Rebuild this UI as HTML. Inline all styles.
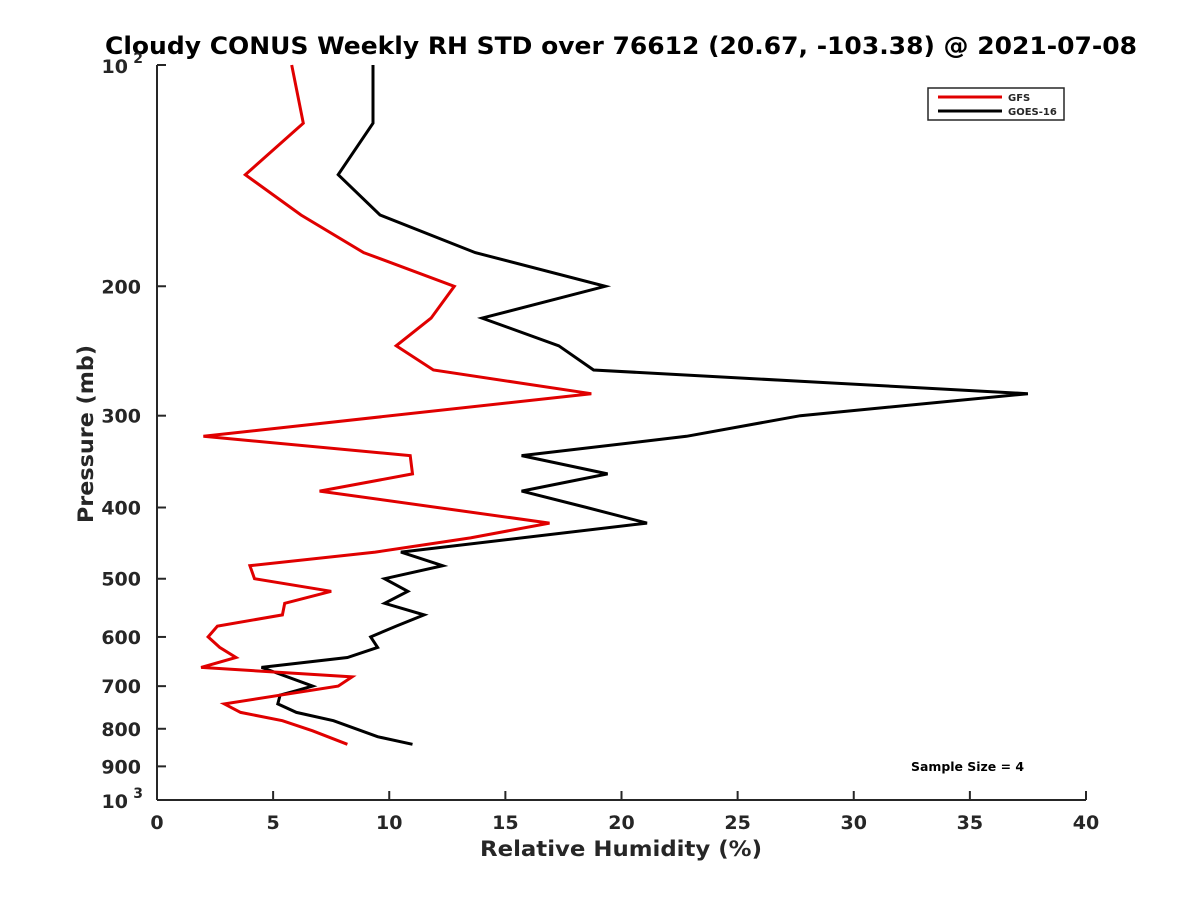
<!DOCTYPE html>
<html><head><meta charset="utf-8"><style>
body{margin:0;background:#fff}
svg text{font-family:"DejaVu Sans","Liberation Sans",sans-serif;font-weight:bold;fill:#262626}
</style></head><body>
<svg id="c" width="1200" height="900">
<rect width="1200" height="900" fill="#fff"/>
<text x="105" y="54" font-size="24" textLength="1032" lengthAdjust="spacingAndGlyphs" style="fill:#000">Cloudy CONUS Weekly RH STD over 76612 (20.67, -103.38) @ 2021-07-08</text>
<g id="axes"></g>
<g id="series"></g>
<text x="480" y="856" font-size="21" textLength="282" lengthAdjust="spacingAndGlyphs">Relative Humidity (%)</text>
<text transform="translate(93,523) rotate(-90)" font-size="21" textLength="178" lengthAdjust="spacingAndGlyphs">Pressure (mb)</text>
<text x="911" y="771" font-size="12" textLength="113" lengthAdjust="spacingAndGlyphs" style="fill:#000">Sample Size = 4</text>
<g>
<rect x="928" y="88" width="136" height="32" fill="#fff" stroke="#262626" stroke-width="1.5"/>
<line x1="938" y1="97" x2="1002" y2="97" stroke="#e00000" stroke-width="3"/>
<text x="1008" y="101" font-size="10">GFS</text>
<line x1="938" y1="111" x2="1002" y2="111" stroke="#000" stroke-width="3"/>
<text x="1008" y="115" font-size="10">GOES-16</text>
</g>
</svg>
<script>
const gfsP=[100,120,141,160,180,200,221,241,260,280,320,340,360,380,420,440,460,480,500,520,540,560,580,600,620,640,660,680,700,740,760,780,805,840];
const gfsV=[5.8,6.3,3.8,6.2,8.9,12.8,11.8,10.3,11.9,18.7,2.0,10.9,11.0,7.0,16.9,13.5,9.4,4.0,4.2,7.5,5.5,5.4,2.6,2.2,2.7,3.4,1.9,8.4,7.8,2.9,3.6,5.4,6.7,8.2];
const goesP=[100,120,141,160,180,200,221,241,260,280,300,320,340,360,380,400,420,460,480,500,520,540,560,580,600,620,640,660,700,710,720,740,760,780,820,840];
const goesV=[9.3,9.3,7.8,9.6,13.7,19.3,14.0,17.3,18.8,37.5,27.7,22.8,15.7,19.4,15.7,18.5,21.1,10.5,12.3,9.8,10.8,9.8,11.5,10.3,9.2,9.5,8.2,4.5,6.7,6.0,5.3,5.2,6.0,7.6,9.5,11.0];
const xTicks=[0,5,10,15,20,25,30,35,40];
const yTicks=[200,300,400,500,600,700,800,900];
const L=157,R=1086,T=65,B=800;
const xs=v=>L+(R-L)*v/40;
const ys=p=>T+(B-T)*Math.log10(p/100);
const NS='http://www.w3.org/2000/svg';
function mk(tag,attrs,parent){const e=document.createElementNS(NS,tag);for(const k in attrs)e.setAttribute(k,attrs[k]);parent.appendChild(e);return e;}
const ax=document.getElementById('axes');
let a=mk('line',{x1:L,y1:T,x2:L,y2:B,stroke:'#262626','stroke-width':2},ax);


a=mk('line',{x1:L,y1:B,x2:R,y2:B,stroke:'#262626','stroke-width':2},ax);


xTicks.forEach(v=>{const x=xs(v);
mk('line',{x1:x,y1:B,x2:x,y2:B-9,stroke:'#262626','stroke-width':2},ax);
const t=mk('text',{x:x,y:B+29,'font-size':19,'text-anchor':'middle'},ax);t.textContent=v;

});
yTicks.forEach(p=>{const y=ys(p);
mk('line',{x1:L,y1:y,x2:L+9,y2:y,stroke:'#262626','stroke-width':2},ax);
const t=mk('text',{x:L-16,y:y+7,'font-size':19,'text-anchor':'end'},ax);t.textContent=p;

});
[[100,'2'],[1000,'3']].forEach(([p,e])=>{const y=ys(p);
mk('line',{x1:L,y1:y,x2:L+9,y2:y,stroke:'#262626','stroke-width':2},ax);
const t=mk('text',{x:L-29,y:y+8,'font-size':19,'text-anchor':'end'},ax);t.textContent='10';


const s=mk('text',{x:L-14,y:y-2,'font-size':14,'text-anchor':'end'},ax);s.textContent=e;

});
const sg=document.getElementById('series');
function line(P,V,col,name){const pts=P.map((p,i)=>xs(V[i]).toFixed(1)+','+ys(p).toFixed(1)).join(' ');
const l=mk('polyline',{points:pts,fill:'none',stroke:col,'stroke-width':3,'stroke-linejoin':'miter'},sg);

}
line(goesP,goesV,'#000','goes16-line');
line(gfsP,gfsV,'#e00000','gfs-line');
</script>
</body></html>
